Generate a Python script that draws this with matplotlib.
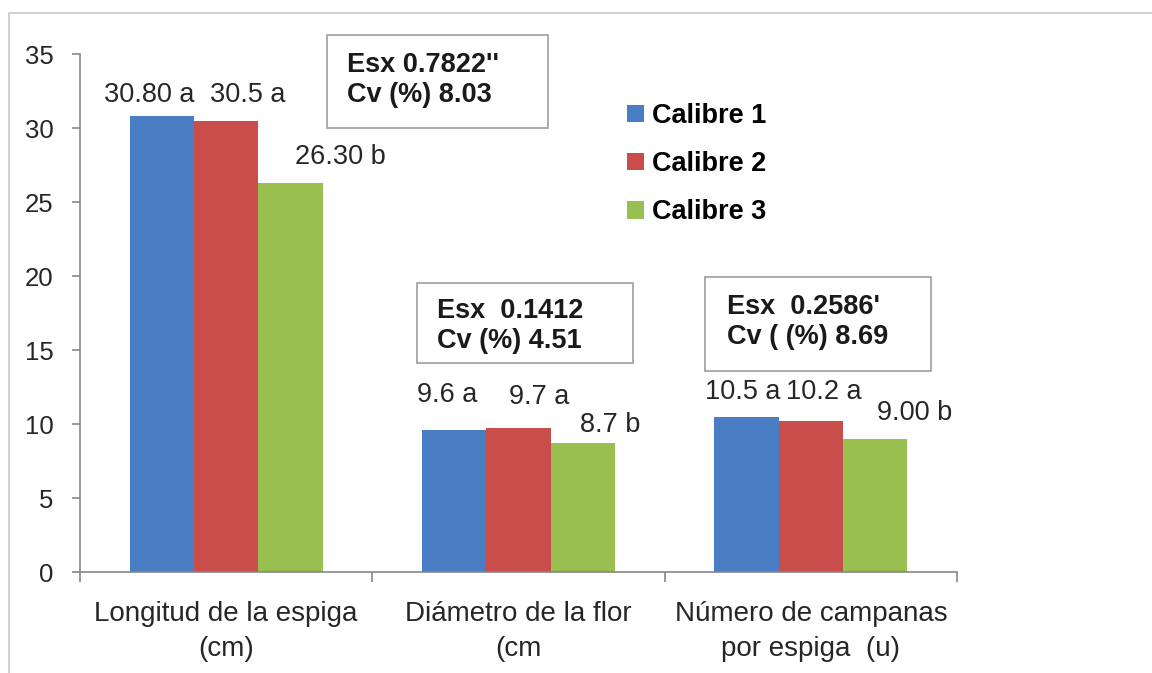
import matplotlib.pyplot as plt
import numpy as np
from matplotlib.patches import Patch, Rectangle

# datos del grafico
categorias = ['Longitud de la espiga\n(cm)', 'Diámetro de la flor\n(cm', 'Número de campanas\npor espiga  (u)']
series = ['Calibre 1', 'Calibre 2', 'Calibre 3']
calibre1 = [30.80, 9.6, 10.5]
calibre2 = [30.5, 9.7, 10.2]
calibre3 = [26.30, 8.7, 9.00]
etiquetas1 = ['30.80 a', '9.6 a', '10.5 a']
etiquetas2 = ['30.5 a', '9.7 a', '10.2 a']
etiquetas3 = ['26.30 b', '8.7 b', '9.00 b']
cuadros = ["Esx 0.7822''\nCv (%) 8.03", "Esx  0.1412\nCv (%) 4.51", "Esx  0.2586'\nCv ( (%) 8.69"]
yticks = [0, 5, 10, 15, 20, 25, 30, 35]

colores = ['#4a7ec4', '#c94d4b', '#98bf4f']  # colores tipo excel
W, H = 1152, 673

def fx(x):
    return x / W

def fy(y):
    return 1 - y / H

plt.rcParams['font.family'] = ['Liberation Sans', 'DejaVu Sans']

fig = plt.figure(figsize=(W / 100, H / 100), dpi=100)
fig.patch.set_facecolor('white')

# marco exterior gris
fig.patches.append(Rectangle((fx(9), fy(H + 20)), fx(W + 20), fy(13) - fy(H + 20),
                             transform=fig.transFigure, fill=False, edgecolor='#c8c8c8', lw=1.2))

ax = fig.add_axes([fx(80), fy(572), fx(957 - 80), fy(54) - fy(572)])

x = np.arange(len(categorias))
ancho = 0.22
valores = [calibre1, calibre2, calibre3]
etiquetas = [etiquetas1, etiquetas2, etiquetas3]
# desplazamiento de cada etiqueta en pixeles (dx, dy)
offs = [[(-13, 21), (-7, 35), (-4, 25)],
        [(22, 26), (21, 31), (13, 29)],
        [(50, 26), (27, 18), (39, 26)]]

for k in range(3):
    pos = x + (k - 1) * ancho
    ax.bar(pos, valores[k], width=ancho, color=colores[k], label=series[k])
    for i in range(len(x)):
        ax.annotate(etiquetas[k][i], xy=(pos[i], valores[k][i]), xytext=offs[k][i],
                    textcoords='offset pixels', ha='center', va='center',
                    fontsize=19.5, color='#262626')

ax.set_xlim(-0.5, 2.5)
ax.set_ylim(0, 35)
ax.set_yticks(yticks)
ax.set_xticks(x)
ax.set_xticklabels(categorias, fontsize=20, color='#262626', linespacing=1.45)
ax.set_xticks([-0.5, 0.5, 1.5, 2.5], minor=True)
ax.tick_params(axis='x', which='major', length=0, pad=21)
ax.tick_params(axis='x', which='minor', length=7, color='#868686', width=1.2)
ax.tick_params(axis='y', length=6, color='#868686', width=1.2, pad=13, labelsize=18.5, labelcolor='#262626')
for s in ['top', 'right']:
    ax.spines[s].set_visible(False)
for s in ['left', 'bottom']:
    ax.spines[s].set_color('#868686')
    ax.spines[s].set_linewidth(1.2)

# cuadros de Esx y Cv
cajas = [(327, 35, 548, 128), (417, 283, 633, 363), (705, 277, 931, 371)]
texto_pos = [(347, 80), (437, 326), (727, 322)]
for (x0, y0, x1, y1), (tx, ty), t in zip(cajas, texto_pos, cuadros):
    fig.patches.append(Rectangle((fx(x0), fy(y1)), fx(x1 - x0), fy(y0) - fy(y1),
                                 transform=fig.transFigure, facecolor='white',
                                 edgecolor='#a6a6a6', lw=1.3, zorder=3))
    fig.text(fx(tx), fy(ty), t, ha='left', va='center', fontsize=19.5,
             fontweight='bold', color='#1a1a1a', linespacing=1.22, zorder=4)

handles = [Patch(facecolor=c) for c in colores]
ax.legend(handles, series, loc='upper left', bbox_to_anchor=(fx(627), fy(103)),
          bbox_transform=fig.transFigure, frameon=False, borderpad=0, borderaxespad=0,
          handlelength=0.62, handleheight=0.62, handletextpad=0.3, labelspacing=0.82,
          prop={'weight': 'bold', 'size': 19.5})

fig.savefig('out.png', dpi=100, facecolor='white')
